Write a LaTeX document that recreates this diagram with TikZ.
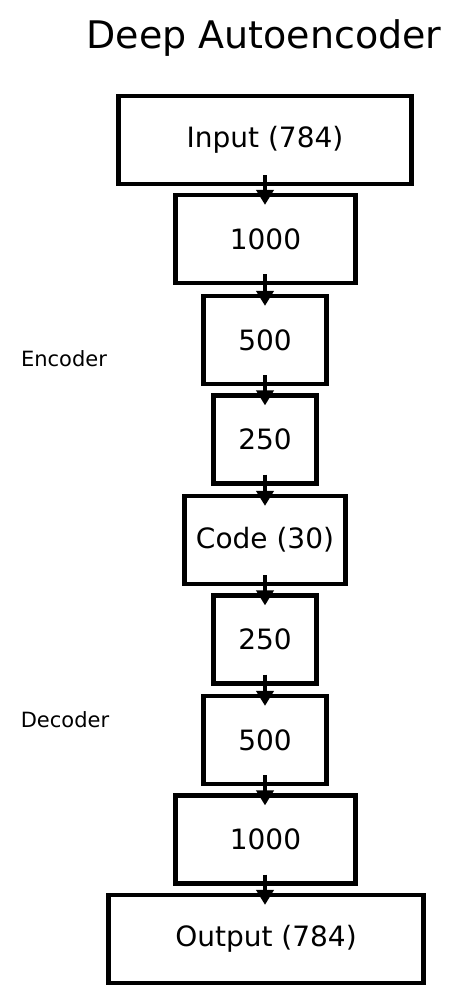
\documentclass[tikz,border=0pt]{standalone}
\usepackage{fontspec}
\setmainfont{DejaVu Sans}
\usetikzlibrary{arrows.meta}
\tikzset{
  layer/.style={draw=black, line width=4.2pt, fill=white, minimum height=88pt, inner sep=0pt, font=\fontsize{28}{32}\selectfont},
  arr/.style={line width=4pt, -{Triangle[width=17pt,length=15pt]}},
  side/.style={font=\fontsize{21}{25}\selectfont}
}
\begin{document}
\begin{tikzpicture}[x=1pt,y=-1pt]
\useasboundingbox (0,0) rectangle (451,1006);
\node[font=\fontsize{38}{43}\selectfont] (title) at (264,38) {Deep Autoencoder};
\node[layer, minimum width=293pt] (in) at (265,140) {Input (784)};
\node[layer, minimum width=180pt] (e1) at (265.5,239) {1000};
\node[layer, minimum width=123pt] (e2) at (265,340) {500};
\node[layer, minimum width=103pt] (e3) at (265,439.5) {250};
\node[layer, minimum width=161pt] (code) at (265,540) {Code (30)};
\node[layer, minimum width=103pt] (d1) at (265,639.5) {250};
\node[layer, minimum width=123pt] (d2) at (265,740) {500};
\node[layer, minimum width=180pt] (d3) at (265.5,839.5) {1000};
\node[layer, minimum width=315pt] (out) at (266,939) {Output (784)};
\node[side] (enc) at (64,359) {Encoder};
\node[side] (dec) at (65,720) {Decoder};
\foreach \a/\b in {in/e1,e1/e2,e2/e3,e3/code,code/d1,d1/d2,d2/d3,d3/out}{
  \draw[arr] ([yshift=11pt]\a.south -| 265,0) -- ([yshift=-12pt]\b.north -| 265,0);
}
\end{tikzpicture}
\end{document}
